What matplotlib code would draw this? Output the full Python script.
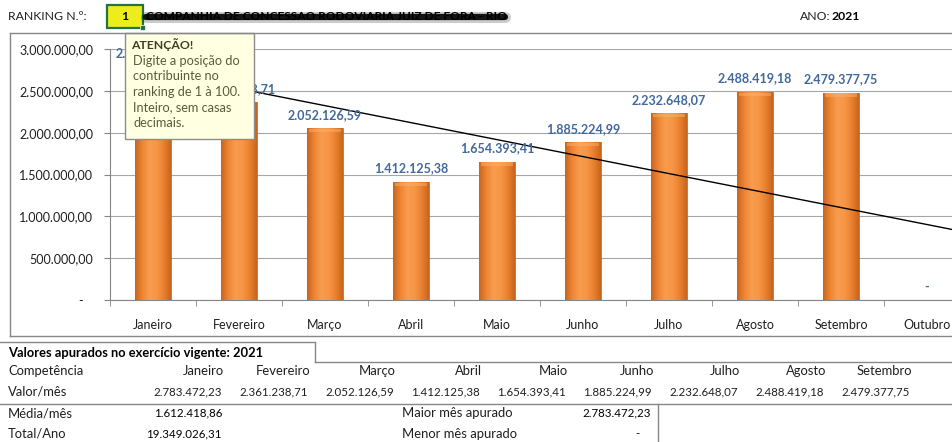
import numpy as np
import matplotlib.pyplot as plt
from matplotlib.colors import LinearSegmentedColormap
from matplotlib.patches import Rectangle
from matplotlib.ticker import FuncFormatter

plt.rcParams['font.family'] = ['Lato', 'DejaVu Sans']

# dados
meses = ['Janeiro', 'Fevereiro', 'Março', 'Abril', 'Maio', 'Junho',
         'Julho', 'Agosto', 'Setembro', 'Outubro', 'Novembro', 'Dezembro']
valores = [2783472.23, 2361238.71, 2052126.59, 1412125.38, 1654393.41,
           1885224.99, 2232648.07, 2488419.18, 2479377.75, 0, 0, 0]
meses_tabela = 9  # colunas visiveis na tabela
yticks = [0, 500000, 1000000, 1500000, 2000000, 2500000, 3000000]
ano = 2021
ranking = 1
empresa = 'COMPANHIA DE CONCESSAO RODOVIARIA JUIZ DE FORA - RIO'
aviso_titulo = 'ATENÇÃO!'
aviso = ['Digite a posição do', 'contribuinte no', 'ranking de 1 à 100.',
         'Inteiro, sem casas', 'decimais.']


def br(v):
    "formato brasileiro, zero vira traco"
    if v == 0:
        return '-'
    s = f'{v:,.2f}'
    return s.replace(',', 'X').replace('.', ',').replace('X', '.')


W, H = 952, 442
fig = plt.figure(figsize=(W / 100, H / 100), dpi=100)

# grafico
ax = fig.add_axes([110 / W, (H - 300) / H, 12 * 86 / W, 251 / H])
x = np.arange(len(meses))
bars = ax.bar(x, valores, width=0.41, color='#F7963F', edgecolor='#B85E18',
              lw=0.5, zorder=3)

cmap = LinearSegmentedColormap.from_list(
    'laranja', ['#C8651E', '#EE8534', '#F89C4E', '#F79646', '#E9822F', '#C8651E'])
grad = np.linspace(0, 1, 64).reshape(1, -1)
for b in bars:
    if b.get_height() <= 0:
        continue
    x0, w, h = b.get_x(), b.get_width(), b.get_height()
    im = ax.imshow(grad, extent=[x0, x0 + w, 0, h], aspect='auto', cmap=cmap,
                   zorder=3, origin='lower')
    im.set_clip_path(b)
    ax.add_patch(Rectangle((x0 + w * 0.06, h - 50000), w * 0.88, 40000,
                           fc='#FBB06E', ec='none', alpha=0.5, zorder=3.5))

for i, v in enumerate(valores):
    ax.annotate(br(v), (i, v), xytext=(0, 9.8), textcoords='offset points',
                ha='center', va='center', fontsize=9, fontweight='bold',
                color='#41699B', zorder=5)

coef = np.polyfit(x + 1, valores, 1)
ax.plot(x, np.polyval(coef, x + 1), color='black', lw=1, zorder=4)

ax.set_xlim(-0.5, 11.5)
ax.set_ylim(0, 3000000)
ax.set_yticks(yticks)
ax.yaxis.set_major_formatter(FuncFormatter(lambda v, p: br(v) if v else '-   '))
ax.grid(axis='y', color='#A6A6A6', lw=0.8)
ax.set_axisbelow(True)
ax.set_xticks(x, labels=meses)
ax.set_xticks(np.arange(-0.5, 12), minor=True)
ax.tick_params(axis='x', which='major', length=0, pad=14, labelsize=9,
               labelcolor='#1F1F1F')
ax.tick_params(axis='x', which='minor', length=4, color='#868686')
ax.tick_params(axis='y', length=4, color='#868686', pad=8, labelsize=9,
               labelcolor='#1F1F1F')
for s in ['top', 'right']:
    ax.spines[s].set_visible(False)
for s in ['left', 'bottom']:
    ax.spines[s].set_color('#868686')

# camada por cima (px)
ov = fig.add_axes([0, 0, 1, 1], zorder=10)
ov.set_xlim(0, W)
ov.set_ylim(H, 0)
ov.axis('off')
ov.patch.set_alpha(0)
cinza = '#878787'

ov.plot([10, W], [33, 33], color=cinza, lw=1)
ov.plot([10, 10], [33, 336], color=cinza, lw=1)
ov.plot([10, W], [336, 336], color=cinza, lw=1)

# linha de cima
ov.text(8, 16, 'RANKING N.º:', fontsize=8.8, va='center', color='#1F1F1F')
ov.add_patch(Rectangle((107, 5), 36, 23, fc='#EDED1C', ec='#217346', lw=1.6))
ov.add_patch(Rectangle((140, 25), 5, 5, fc='#217346', ec='white', lw=0.5))
ov.text(125, 16.5, str(ranking), fontsize=8.8, fontweight='bold', ha='center',
        va='center')
ov.text(146, 16.5, empresa, fontsize=8.6, fontweight='bold', va='center',
        color='black')
ov.plot([146, 505], [16.5, 16.5], color='black', lw=8, alpha=0.2,
        solid_capstyle='round')
ov.plot([146, 505], [16.5, 16.5], color='black', lw=4.5, alpha=0.9,
        solid_capstyle='round')
ov.text(800, 16, 'ANO:', fontsize=8.8, va='center', color='#1F1F1F')
ov.text(832, 16, str(ano), fontsize=8.8, va='center', fontweight='bold')

# comentario
ov.add_patch(Rectangle((125, 33), 129, 106, fc='#FFFFE1', ec='#8C8C8C', lw=1))
ov.text(131, 45, aviso_titulo, fontsize=8.8, fontweight='bold', va='center',
        color='#3E3E22')
for k, linha in enumerate(aviso):
    ov.text(133, 61 + k * 15.4, linha, fontsize=9.2, va='center',
            color='#5A5A3E')

# tabela
ov.plot([0, 315], [342, 342], color=cinza, lw=1)
ov.plot([315, 315], [342, 362], color=cinza, lw=1)
ov.plot([315, W], [362, 362], color=cinza, lw=1)
ov.plot([0, W], [404, 404], color=cinza, lw=1)
ov.plot([658, 658], [404, H], color=cinza, lw=1)

fs = 9.4   # palavras
fn = 8.3   # numeros
ov.text(8, 353, f'Valores apurados no exercício vigente: {ano}', fontsize=9.3,
        fontweight='bold', va='center')
ov.text(8, 371, 'Competência', fontsize=fs, va='center', color='#1F1F1F')
ov.text(8, 392, 'Valor/mês', fontsize=fs, va='center', color='#1F1F1F')
for i in range(meses_tabela):
    xr = 224 + 86 * i
    ov.text(xr, 371, meses[i], fontsize=fs, ha='right', va='center',
            color='#1F1F1F')
    ov.text(xr - 2, 392, br(valores[i]), fontsize=fn, ha='right',
            va='center', color='#1F1F1F')

total = sum(valores)
ov.text(8, 413, 'Média/mês', fontsize=fs, va='center', color='#1F1F1F')
ov.text(222, 413, br(total / 12), fontsize=fn, ha='right', va='center')
ov.text(8, 434, 'Total/Ano', fontsize=fs, va='center', color='#1F1F1F')
ov.text(222, 434, br(total), fontsize=fn, ha='right', va='center')
ov.text(402, 413, 'Maior mês apurado', fontsize=fs, va='center',
        color='#1F1F1F')
ov.text(651, 413, br(max(valores)), fontsize=fn, ha='right', va='center')
ov.text(402, 434, 'Menor mês apurado', fontsize=fs, va='center',
        color='#1F1F1F')
ov.text(640, 434, br(min(valores)), fontsize=fn, ha='right', va='center')

fig.savefig('out.png', dpi=100)
